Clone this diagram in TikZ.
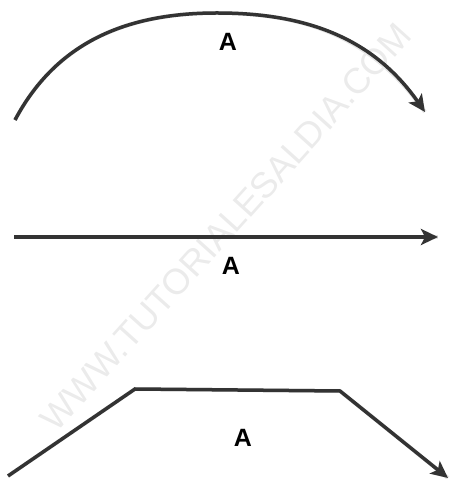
\documentclass[tikz,border=0pt]{standalone}
\usepackage{fontspec}
\setmainfont{Liberation Sans}
\usetikzlibrary{arrows.meta, backgrounds}

\begin{document}
\begin{tikzpicture}[
    x=1pt, y=1pt,
    move/.style={draw=black!80, line width=3.5pt,
                 -{Stealth[length=17pt, width=16pt, inset=4pt]}},
    ghost/.style={draw=black!10, line width=4pt, shift={(2,-4)}},
    tag/.style={font=\fontsize{25}{27}\selectfont\bfseries, text=black},
    stamp/.style={font=\fontsize{36}{38}\selectfont, text=black!8,
                  rotate=48},
]
\useasboundingbox (0,0) rectangle (451,479);

% curved path
\coordinate (arcStart) at (15,359);
\coordinate (arcTop)   at (217,466);
\coordinate (arcEnd)   at (425,367);
% straight path
\coordinate (lineStart) at (14,242);
\coordinate (lineEnd)   at (438,242);
% broken path
\coordinate (polyStart) at (8,3);
\coordinate (polyA)     at (135,90);
\coordinate (polyB)     at (340,88);
\coordinate (polyEnd)   at (448,1);

\node[stamp] (wm) at (226,252) {WWW.TUTORIALESALDIA.COM};

\begin{scope}[on background layer]
  \draw[ghost] (arcStart) to[out=62, in=180] (arcTop) to[out=0, in=125] (arcEnd);
  \draw[ghost] (lineStart) -- (lineEnd);
  \draw[ghost] (polyStart) -- (polyA) -- (polyB) -- (polyEnd);
\end{scope}

\draw[move] (arcStart) to[out=62, in=180] (arcTop) to[out=0, in=125] (arcEnd);
\draw[move] (lineStart) -- (lineEnd);
\draw[move] (polyStart) -- (polyA) -- (polyB) -- (polyEnd);

\node[tag] (a1) at (228,437) {A};
\node[tag] (a2) at (231,213) {A};
\node[tag] (a3) at (243,41)  {A};
\end{tikzpicture}
\end{document}
